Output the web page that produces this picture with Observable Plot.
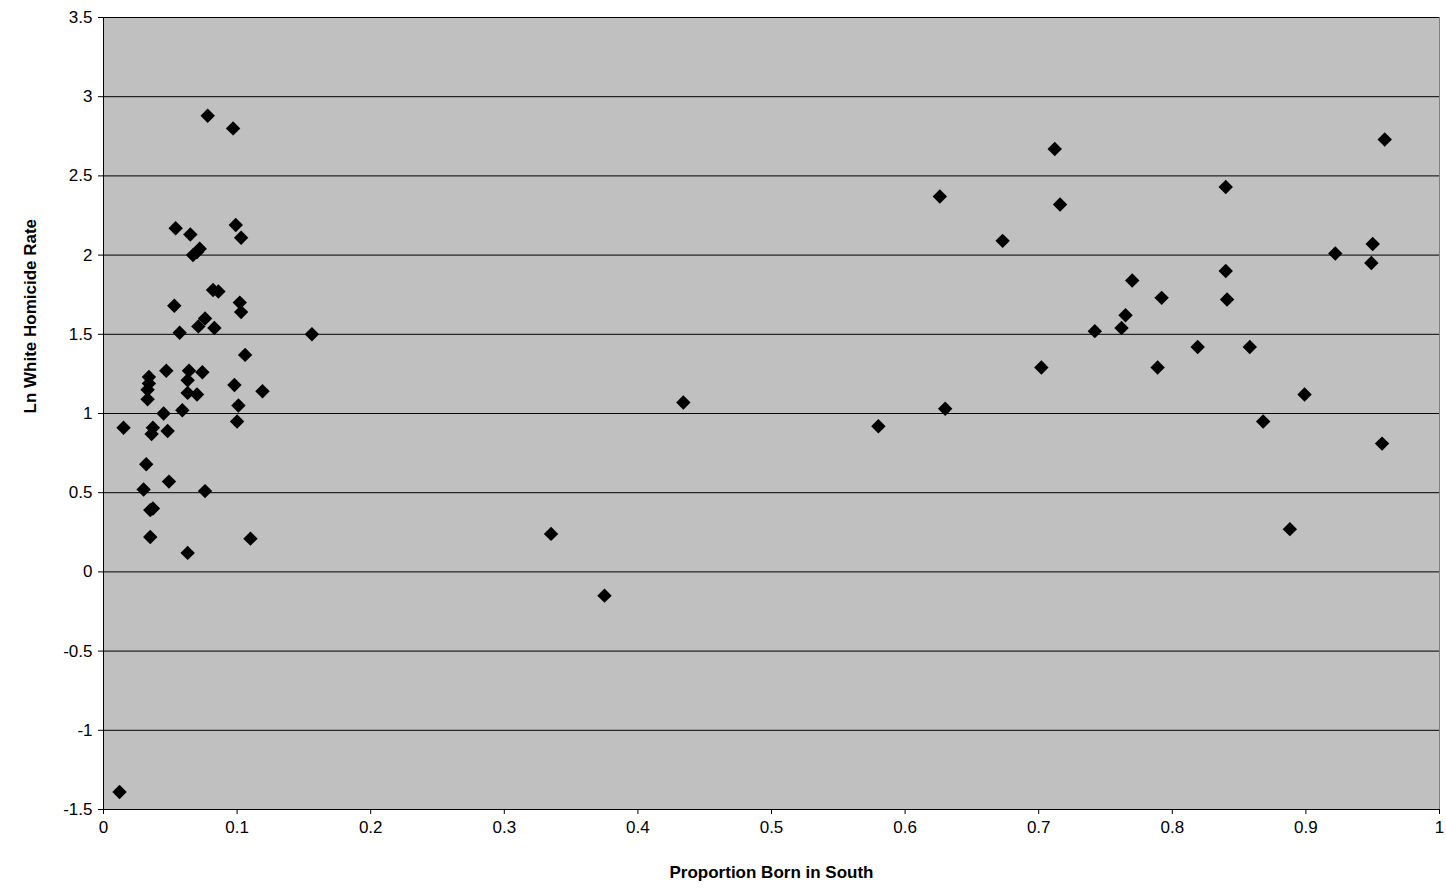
<!DOCTYPE html>
<html><head><meta charset="utf-8">
<script src="https://cdn.jsdelivr.net/npm/d3@7"></script>
<script src="https://cdn.jsdelivr.net/npm/@observablehq/plot@0.6"></script>
<style>body{margin:0;background:#fff;font-family:"Liberation Sans",Arial,sans-serif}</style>
</head><body><div id="chart"></div>
<script>
// proportion born in south
const bornSouth = [0.012,0.015,0.030,0.032,0.033,0.033,0.034,0.034,0.035,0.035,0.036,0.037,0.037,0.045,0.047,0.048,0.049,0.053,0.054,0.057,0.059,0.063,0.063,0.064,0.063,0.065,0.067,0.070,0.070,0.071,0.072,0.074,0.076,0.076,0.078,0.082,0.083,0.086,0.097,0.098,0.099,0.100,0.101,0.102,0.103,0.103,0.106,0.110,0.119,0.156,
  0.335,0.375,0.434,0.580,0.626,0.630,0.673,0.702,0.712,0.716,0.742,0.762,0.765,0.770,0.789,0.792,0.819,0.840,0.840,0.841,0.858,0.868,0.888,0.899,0.922,0.949,0.950,0.957,0.959]
// ln white homicide rate
const lnHomicide = [-1.39,0.91,0.52,0.68,1.09,1.15,1.19,1.23,0.39,0.22,0.87,0.91,0.40,1.00,1.27,0.89,0.57,1.68,2.17,1.51,1.02,1.21,1.13,1.27,0.12,2.13,2.00,2.02,1.12,1.55,2.04,1.26,1.60,0.51,2.88,1.78,1.54,1.77,2.80,1.18,2.19,0.95,1.05,1.70,1.64,2.11,1.37,0.21,1.14,1.50,
  0.24,-0.15,1.07,0.92,2.37,1.03,2.09,1.29,2.67,2.32,1.52,1.54,1.62,1.84,1.29,1.73,1.42,2.43,1.90,1.72,1.42,0.95,0.27,1.12,2.01,1.95,2.07,0.81,2.73]
const yTicks = [-1.5,-1,-0.5,0,0.5,1,1.5,2,2.5,3,3.5]
const xTicks = [0,0.1,0.2,0.3,0.4,0.5,0.6,0.7,0.8,0.9,1]

const data = bornSouth.map((x, i) => ({x, y: lnHomicide[i]}))

const chart = Plot.plot({
  width: 1446, height: 894,
  marginLeft: 103, marginRight: 7, marginTop: 17, marginBottom: 85,
  style: {fontFamily: "Liberation Sans, Arial, sans-serif", fontSize: "17px", color: "#000", background: "#fff"},
  x: {domain: [0, 1], label: null},
  y: {domain: [-1.5, 3.5], label: null},
  marks: [
    Plot.frame({fill: "#c0c0c0", stroke: "#808080"}),
    Plot.ruleY(yTicks, {stroke: "#000", strokeWidth: 1}),
    Plot.ruleX([0], {stroke: "#000"}),
    Plot.axisX({ticks: xTicks, tickFormat: d => String(d), tickSize: 5, tickPadding: 6, fontSize: 17, label: null}),
    Plot.axisY({ticks: yTicks, tickFormat: d => String(d), tickSize: 5, tickPadding: 6, fontSize: 17, label: null}),
    Plot.dot(data, {x: "x", y: "y", symbol: "diamond2", r: 6.5, fill: "#000", stroke: "none"}),
    Plot.text(["Proportion Born in South"], {frameAnchor: "bottom", dy: 68, fontWeight: "bold", fontSize: 17}),
    Plot.text(["Ln White Homicide Rate"], {frameAnchor: "left", dx: -73, rotate: -90, fontWeight: "bold", fontSize: 17})
  ]
})
d3.select("#chart").append(() => chart)
</script></body></html>
